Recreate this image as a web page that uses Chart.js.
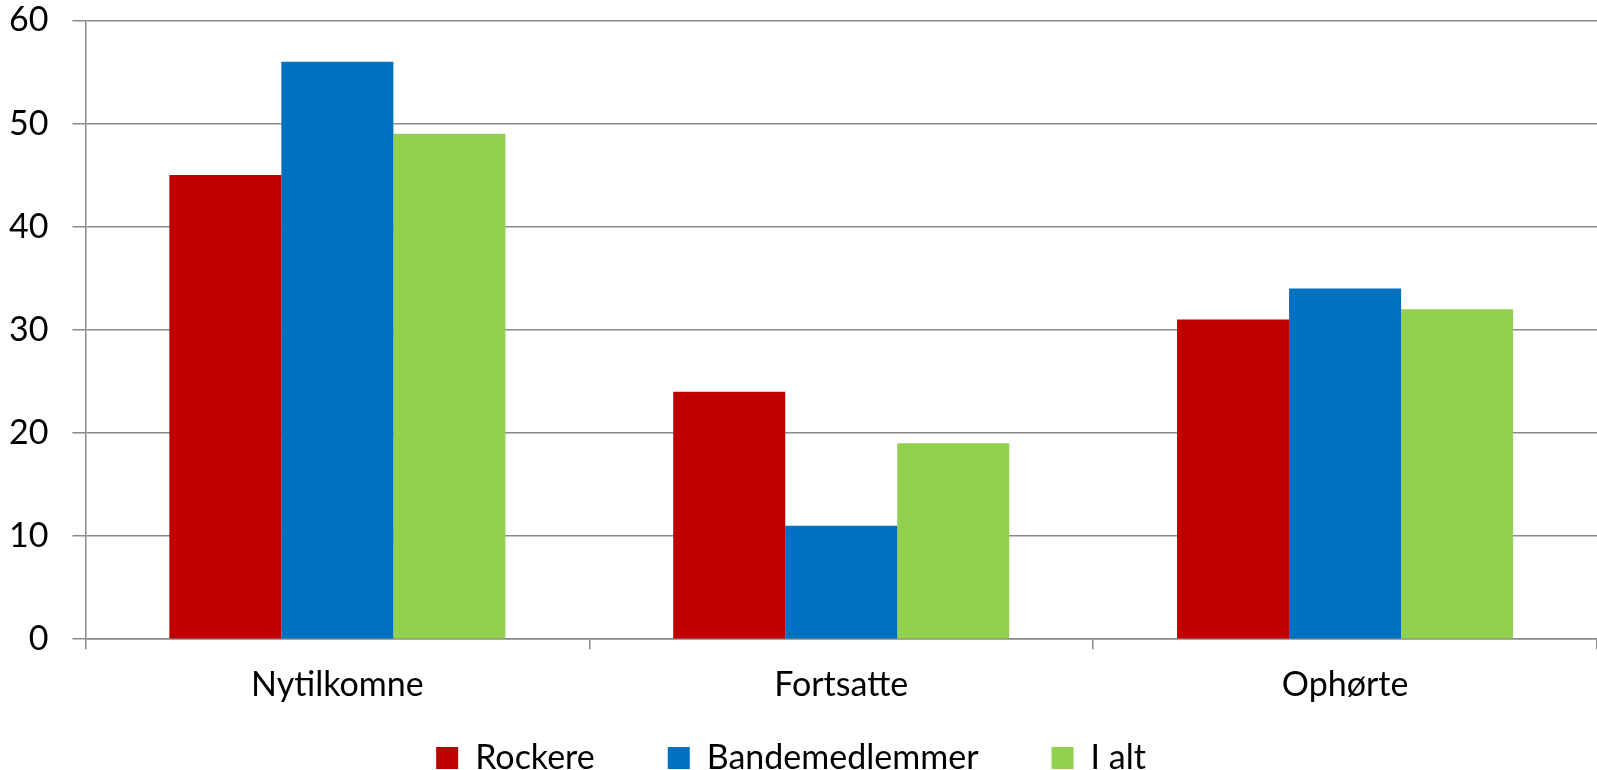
<!DOCTYPE html>
<html>
<head>
<meta charset="utf-8">
<script src="https://cdn.jsdelivr.net/npm/chart.js@4"></script>
<style>
  html, body { margin: 0; padding: 0; background: #fff; overflow: hidden; }
  #wrap { width: 1597px; height: 861px; margin-top: -24px; }
</style>
</head>
<body>
<div id="wrap"><canvas id="chart"></canvas></div>
<script>
const categories = ["Nytilkomne", "Fortsatte", "Ophørte"];
const rockere = [45, 24, 31];
const bandemedlemmer = [56, 11, 34];
const iAlt = [49, 19, 32];
const seriesNames = ["Rockere", "Bandemedlemmer", "I alt"];
const yTicks = [0, 10, 20, 30, 40, 50, 60];

const fontFamily = "Lato, 'Open Sans', sans-serif";
const fontSize = 34;
const gridGray = "#8a8a8a";

// wide gaps between legend items, but legend sits close under the x labels
const legendLift = {
    id: "legendLift",
    afterLayout(chart) {
        chart.legend.top -= 52;
        chart.legend.bottom -= 52;
    },
};

new Chart(document.getElementById("chart"), {
    type: "bar",
    data: {
        labels: categories,
        datasets: [
            { label: seriesNames[0], data: rockere, backgroundColor: "#c00000" },
            { label: seriesNames[1], data: bandemedlemmer, backgroundColor: "#0070c0" },
            { label: seriesNames[2], data: iAlt, backgroundColor: "#92d050" },
        ],
    },
    plugins: [legendLift],
    options: {
        responsive: true,
        maintainAspectRatio: false,
        animation: false,
        layout: { padding: { top: 2, right: 0, left: -15, bottom: 0 } },
        datasets: {
            bar: { categoryPercentage: 0.667, barPercentage: 1.0 },
        },
        scales: {
            y: {
                min: 0,
                max: 60,
                afterBuildTicks: (axis) => { axis.ticks = yTicks.map((v) => ({ value: v })); },
                ticks: {
                    color: "#000",
                    padding: 24,
                    font: { family: fontFamily, size: fontSize },
                },
                grid: {
                    color: gridGray,
                    lineWidth: 1.5,
                    tickLength: 13,
                },
                border: { color: gridGray, width: 1.5 },
            },
            x: {
                ticks: {
                    color: "#000",
                    padding: 15,
                    font: { family: fontFamily, size: fontSize },
                },
                grid: {
                    offset: true,
                    drawOnChartArea: false,
                    color: gridGray,
                    lineWidth: 1.5,
                    tickLength: 10,
                },
                border: { color: gridGray, width: 1.5 },
            },
        },
        plugins: {
            legend: {
                position: "bottom",
                labels: {
                    color: "#000",
                    boxWidth: 22,
                    boxHeight: 22,
                    padding: 73,
                    font: { family: fontFamily, size: fontSize },
                },
            },
            tooltip: { enabled: false },
        },
    },
});
</script>
</body>
</html>
